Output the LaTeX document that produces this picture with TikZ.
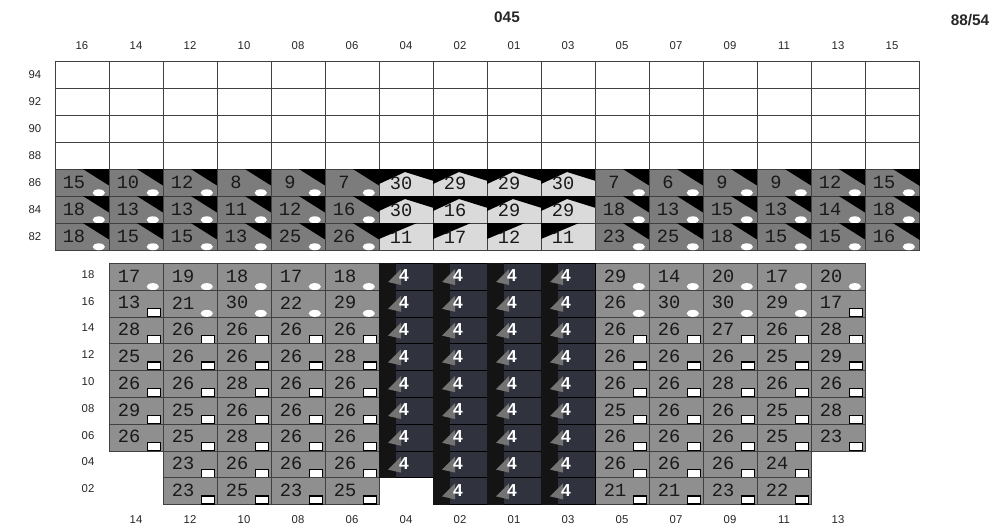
\documentclass[tikz,border=0pt]{standalone}
\usepackage{fontspec}
\setmainfont{Liberation Sans}
\newfontfamily\cellfont{Liberation Mono}
\usetikzlibrary{calc}
\definecolor{ugray}{HTML}{7C7C7C}
\definecolor{lgray}{HTML}{8F8F8F}
\definecolor{pale}{HTML}{DADADA}
\definecolor{darkc}{HTML}{30333D}
\tikzset{
  cell/.style={draw=black!75, line width=0.6pt, rectangle, inner sep=0pt,
    minimum width=40.5pt, minimum height=20.25pt, anchor=north west},
  lcell/.style={cell, minimum height=20.1pt},
  num/.style={font=\cellfont\fontsize{14}{14}\selectfont, inner sep=0pt, text=black!90},
  four/.style={font=\bfseries\fontsize{13}{13}\selectfont, inner sep=0pt, text=white},
  lab/.style={font=\fontsize{8.5}{10}\selectfont, inner sep=0pt, text=black!85},
  ttl/.style={font=\bfseries\fontsize{11.5}{12}\selectfont, inner sep=0pt, text=black!85}
}
\newcommand\ugcell[3]{%
  \node[cell,fill=ugray] (u-#1-#2) at ({55+(#2-1)*54},{61+(#1-1)*27}) {};
  \fill[black] ($(u-#1-#2.north east)+(-27,0)$) -- (u-#1-#2.north east) -- ($(u-#1-#2.north east)+(0,17)$) -- cycle;
  \fill[white] ($(u-#1-#2.south east)+(-11,-4)$) ellipse [x radius=4.6pt, y radius=2.6pt];
  \node[num] (un-#1-#2) at ($(u-#1-#2.north west)+(19,13)$) {#3};
}
\newcommand\upcell[3]{%
  \node[cell,fill=pale] (u-#1-#2) at ({55+(#2-1)*54},{61+(#1-1)*27}) {};
  \ifnum#1=7
    \fill[black] (u-#1-#2.north west) -- ($(u-#1-#2.north west)+(38,0)$) -- ($(u-#1-#2.north west)+(0,16)$) -- cycle;
  \else
    \fill[black] (u-#1-#2.north west) -- (u-#1-#2.north east) -- ($(u-#1-#2.north east)+(0,12)$) -- ($(u-#1-#2.north west)+(26,3)$) -- ($(u-#1-#2.north west)+(0,15)$) -- cycle;
  \fi
  \node[num] (un-#1-#2) at ($(u-#1-#2.north west)+(22,14)$) {#3};
}
\newcommand\lgcell[4]{%
  \node[lcell,fill=lgray] (l-#1-#2) at ({55+(#2-1)*54},{263+(#1-1)*26.8}) {};
  \node[num] (ln-#1-#2) at ($(l-#1-#2.north west)+(20,13)$) {#3};
  \if#4o
    \fill[white] ($(l-#1-#2.south east)+(-11,-4)$) ellipse [x radius=4.6pt, y radius=2.6pt];
  \else
    \filldraw[fill=white,draw=black,line width=0.9pt] ($(l-#1-#2.south east)+(-16,-9)$) rectangle ($(l-#1-#2.south east)+(-3,-1)$);
  \fi
}
\newcommand\dkcell[2]{%
  \node[lcell,fill=darkc,draw=black] (l-#1-#2) at ({55+(#2-1)*54},{263+(#1-1)*26.8}) {};
  \fill[black!92] (l-#1-#2.north west) rectangle ($(l-#1-#2.south west)+(17,0)$);
  \fill[black!55] ($(l-#1-#2.north west)+(9,19)$) -- ($(l-#1-#2.north west)+(22,6)$) -- ($(l-#1-#2.north west)+(22,22)$) -- cycle;
  \node[four] (ln-#1-#2) at ($(l-#1-#2.north west)+(25,13)$) {4};
}
\begin{document}
\begin{tikzpicture}[x=0.75pt,y=-0.75pt]
\useasboundingbox (0,0) rectangle (1002,531);
\node[ttl] (t045) at (507,17) {045};
\node[ttl] (tratio) at (970,20) {88/54};
\foreach \l [count=\c] in {16,14,12,10,08,06,04,02,01,03,05,07,09,11,13,15}
  \node[lab] (ct-\c) at ({55+(\c-0.5)*54},46) {\l};
\foreach \l [count=\r] in {94,92,90,88,86,84,82}
  \node[lab] (rl-\r) at (35,{61+(\r-0.5)*27}) {\l};
% white rows
\foreach \r in {1,...,4}
  \foreach \c in {1,...,16}
    \node[cell,fill=white] (u-\r-\c) at ({55+(\c-1)*54},{61+(\r-1)*27}) {};
% gray / pale rows
\foreach \r/\row in {5/{15,10,12,8,9,7,30,29,29,30,7,6,9,9,12,15},
                     6/{18,13,13,11,12,16,30,16,29,29,18,13,15,13,14,18},
                     7/{18,15,15,13,25,26,11,17,12,11,23,25,18,15,15,16}}
  \foreach \v [count=\c] in \row {
    \ifnum\c<7 \ugcell{\r}{\c}{\v}\else\ifnum\c>10 \ugcell{\r}{\c}{\v}\else\upcell{\r}{\c}{\v}\fi\fi
  };
% lower grid
\foreach \l [count=\r] in {18,16,14,12,10,08,06,04,02}
  \node[lab] (ll-\r) at (88,{263+(\r-0.5)*26.8-2}) {\l};
\foreach \l [count=\k] in {14,12,10,08,06,04,02,01,03,05,07,09,11,13}
  \node[lab] (cb-\k) at ({55+(\k+0.5)*54},520) {\l};
\foreach \r/\row in {1/{2/17/o,3/19/o,4/18/o,5/17/o,6/18/o,11/29/o,12/14/o,13/20/o,14/17/o,15/20/o},
                     2/{2/13/s,3/21/o,4/30/o,5/22/o,6/29/o,11/26/o,12/30/o,13/30/o,14/29/o,15/17/s}}
  \foreach \c/\v/\m in \row { \lgcell{\r}{\c}{\v}{\m} };
\foreach \r/\row in {3/{2/28,3/26,4/26,5/26,6/26,11/26,12/26,13/27,14/26,15/28},
                     4/{2/25,3/26,4/26,5/26,6/28,11/26,12/26,13/26,14/25,15/29},
                     5/{2/26,3/26,4/28,5/26,6/26,11/26,12/26,13/28,14/26,15/26},
                     6/{2/29,3/25,4/26,5/26,6/26,11/25,12/26,13/26,14/25,15/28},
                     7/{2/26,3/25,4/28,5/26,6/26,11/26,12/26,13/26,14/25,15/23},
                     8/{3/23,4/26,5/26,6/26,11/26,12/26,13/26,14/24},
                     9/{3/23,4/25,5/23,6/25,11/21,12/21,13/23,14/22}}
  \foreach \c/\v in \row { \lgcell{\r}{\c}{\v}{s} };
\foreach \r in {1,...,8} { \dkcell{\r}{7} };
\foreach \r in {1,...,9}
  \foreach \c in {8,9,10} { \dkcell{\r}{\c} };
\end{tikzpicture}
\end{document}
